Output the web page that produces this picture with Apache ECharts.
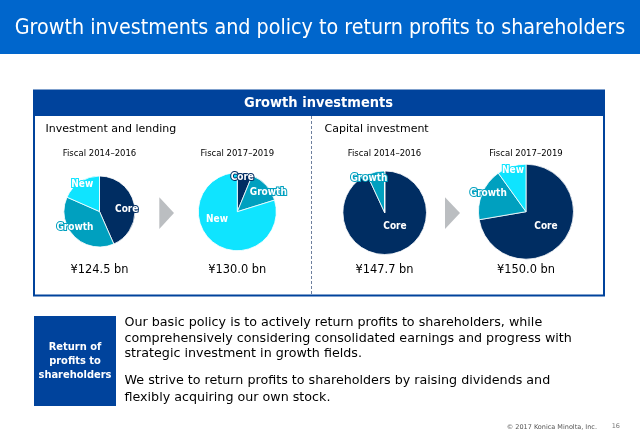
<!DOCTYPE html>
<html>
<head>
<meta charset="utf-8">
<style>html,body{margin:0;padding:0;background:#fff}#main{width:640px;height:443px}</style>
<script src="https://cdn.jsdelivr.net/npm/echarts@6/dist/echarts.min.js"></script>
</head>
<body>
<div id="main"></div>
<script>
// share of each pie, clockwise from 12 o'clock
var categories = ['Core', 'Growth', 'New'];
var lending1416 = [43.4, 38.2, 18.4];
var lending1719 = [6.2, 14.0, 79.8];
var capital1416 = [93.1, 6.9, 0];
var capital1719 = [72.3, 17.8, 9.9];
var periods = ['Fiscal 2014\u20132016', 'Fiscal 2017\u20132019', 'Fiscal 2014\u20132016', 'Fiscal 2017\u20132019'];
var totals = ['\u00a5124.5 bn', '\u00a5130.0 bn', '\u00a5147.7 bn', '\u00a5150.0 bn'];

var FONT = '"DejaVu Sans"';
var CONDENSED = '"DejaVu Sans Condensed"';
var colors = ['#002d62', '#00a0bf', '#0fe4ff'];

// pie centres, radii and label spots
var pies = [
    {data: lending1416, c: [99.5, 211.5], r: 35.5, labels: [[126.7, 209], [75, 227], [82.3, 184.3]]},
    {data: lending1719, c: [237.3, 211.7], r: 39, labels: [[242.3, 177.7], [268.3, 192.3], [217, 219.3]]},
    {data: capital1416, c: [384.7, 212.7], r: 41.8, labels: [[395, 226.3], [369, 178.7], [0, 0]]},
    {data: capital1719, c: [526, 211.7], r: 47.5, labels: [[546, 226.3], [488.3, 193.3], [513, 170.7]]}
];
var centerX = [99.5, 237.3, 384.5, 526];

function text(x, y, str, size, color, align, weight, family) {
    return {
        type: 'text', x: x, y: y, silent: true,
        style: {
            text: str, fontSize: size, fill: color, fontFamily: family || FONT,
            fontWeight: weight || 'normal', align: align || 'left', verticalAlign: 'middle'
        }
    };
}

var graphics = [
    {type: 'rect', shape: {x: 0, y: 0, width: 640, height: 54}, style: {fill: '#0066cc'}},
    {type: 'rect', shape: {x: 34, y: 90.5, width: 570, height: 205}, style: {fill: '#fff', stroke: '#00439c', lineWidth: 2}},
    {type: 'rect', shape: {x: 34, y: 90, width: 570, height: 26}, style: {fill: '#00439c'}},
    {type: 'line', shape: {x1: 311.5, y1: 116, x2: 311.5, y2: 295}, style: {stroke: '#6d7f9e', lineWidth: 1, lineDash: [3, 2]}},
    {type: 'polygon', shape: {points: [[159.3, 197.3], [174, 213], [159.3, 229]]}, style: {fill: '#bbbec1'}},
    {type: 'polygon', shape: {points: [[445, 197.3], [460, 213], [445, 229]]}, style: {fill: '#bbbec1'}},
    {type: 'rect', shape: {x: 34, y: 316, width: 82, height: 90}, style: {fill: '#00439c'}},
    text(320, 28, 'Growth investments and policy to return profits to shareholders', 21.3, '#fff', 'center', 'normal', CONDENSED),
    text(318.5, 103, 'Growth investments', 14.5, '#fff', 'center', 'bold', CONDENSED),
    text(45.5, 129, 'Investment and lending', 11, '#000'),
    text(324.5, 129, 'Capital investment', 11, '#000'),
    text(75, 347, 'Return of', 11, '#fff', 'center', 'bold', CONDENSED),
    text(75, 361, 'profits to', 11, '#fff', 'center', 'bold', CONDENSED),
    text(75, 375, 'shareholders', 11, '#fff', 'center', 'bold', CONDENSED),
    text(124.5, 323, 'Our basic policy is to actively return profits to shareholders, while', 12.7, '#000'),
    text(124.5, 339, 'comprehensively considering consolidated earnings and progress with', 12.7, '#000'),
    text(124.5, 354, 'strategic investment in growth fields.', 12.7, '#000'),
    text(124.5, 381, 'We strive to return profits to shareholders by raising dividends and', 12.7, '#000'),
    text(124.5, 397.5, 'flexibly acquiring our own stock.', 12.7, '#000'),
    text(597, 427, '\u00a9 2017 Konica Minolta, Inc.', 6.5, '#555', 'right'),
    text(620, 426, '16', 6.5, '#777', 'right')
];
periods.forEach(function (p, i) {
    graphics.push(text(centerX[i], 153.5, p, 8.5, '#000', 'center'));
    graphics.push(text(centerX[i], 270.5, totals[i], 11.4, '#000', 'center'));
});

var myChart = echarts.init(document.getElementById('main'));
var series = [];
for (let i = 0; i < pies.length; i++) {
    let pie = pies[i];
    series.push({
        type: 'pie',
        center: pie.c,
        radius: [0, pie.r],
        startAngle: 90,
        clockwise: true,
        silent: true,
        animation: false,
        minShowLabelAngle: 0.1,
        avoidLabelOverlap: false,
        itemStyle: {borderColor: '#fff', borderWidth: 0.8},
        labelLine: {show: false},
        label: {
            show: true, position: 'inside', formatter: '{b}', color: '#fff',
            fontSize: 10, fontWeight: 'bold', fontFamily: CONDENSED, textBorderWidth: 2
        },
        labelLayout: function (params) {
            return {x: pie.labels[params.dataIndex][0], y: pie.labels[params.dataIndex][1], align: 'center', verticalAlign: 'middle'};
        },
        data: categories.map(function (name, k) {
            return {
                name: name, value: pie.data[k],
                itemStyle: {color: colors[k]},
                label: {textBorderColor: colors[k], show: pie.data[k] > 0}
            };
        })
    });
}

myChart.setOption({
    animation: false,
    graphic: {elements: graphics},
    series: series
});
</script>
</body>
</html>
